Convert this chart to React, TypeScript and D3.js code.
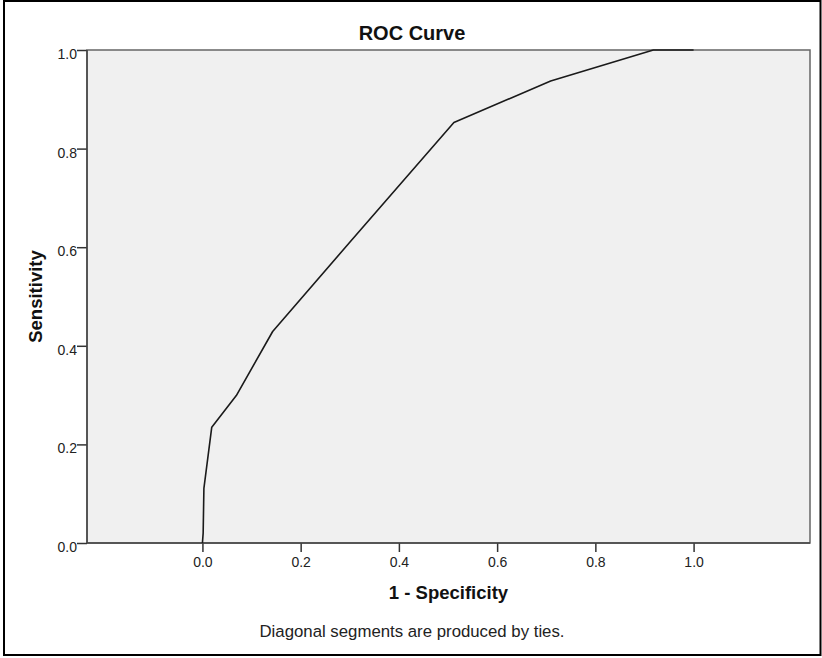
import { useEffect, useRef } from 'react';
import * as d3 from 'd3';

// ROC points (1 - specificity, sensitivity)
const fpr = [0, 0.0015, 0.003, 0.019, 0.069, 0.143, 0.30, 0.512, 0.709, 0.918, 1.0];
const tpr = [0, 0.02, 0.111, 0.235, 0.299, 0.429, 0.61, 0.853, 0.937, 1.0, 1.0];
const xTicks = [0, 0.2, 0.4, 0.6, 0.8, 1.0];
const yTicks = [0, 0.2, 0.4, 0.6, 0.8, 1.0];

const FONT = "'Liberation Sans', Arial, sans-serif";

export default function App() {
  const ref = useRef<SVGSVGElement | null>(null);

  useEffect(() => {
    const el = ref.current;
    if (!el) return;
    const svg = d3.select(el);
    svg.selectAll('*').remove();

    const w = 822;
    const h = 658;
    const m = { t: 50, r: 810, b: 543, l: 87 }; // plot box edges

    const x = d3.scaleLinear().domain([-0.235, 1.237]).range([m.l, m.r]);
    const y = d3.scaleLinear().domain([0, 1]).range([m.b, m.t]);

    // outer frame
    svg.append('rect')
      .attr('x', 4).attr('y', 1).attr('width', w - 5.5).attr('height', h - 4)
      .attr('fill', '#fff').attr('stroke', '#000').attr('stroke-width', 2);

    // plot background
    svg.append('rect')
      .attr('x', m.l).attr('y', m.t).attr('width', m.r - m.l).attr('height', m.b - m.t)
      .attr('fill', '#f0f0f0').attr('stroke', '#666').attr('stroke-width', 1.5);

    // axes
    const fmt = d3.format('.1f');
    const gx = svg.append('g')
      .attr('transform', `translate(0,${m.b})`)
      .call(d3.axisBottom(x).tickValues(xTicks).tickFormat(d => fmt(d as number)).tickSize(9).tickPadding(5));
    const gy = svg.append('g')
      .attr('transform', `translate(${m.l},0)`)
      .call(d3.axisLeft(y).tickValues(yTicks).tickFormat(d => fmt(d as number)).tickSize(10).tickPadding(0));

    [gx, gy].forEach(g => {
      g.select('.domain').remove();
      g.selectAll('line').attr('stroke', '#333').attr('stroke-width', 1.5);
      g.selectAll('text')
        .attr('fill', '#222')
        .attr('font-size', 14)
        .attr('font-family', FONT);
    });
    gy.selectAll('text').attr('dy', '0.6em');

    // left + bottom axis lines a bit darker
    svg.append('line').attr('x1', m.l).attr('x2', m.l).attr('y1', m.t).attr('y2', m.b)
      .attr('stroke', '#444').attr('stroke-width', 1.5);
    svg.append('line').attr('x1', m.l).attr('x2', m.r).attr('y1', m.b).attr('y2', m.b)
      .attr('stroke', '#444').attr('stroke-width', 1.5);

    // ROC curve
    const pts: [number, number][] = fpr.map((v, i) => [v, tpr[i]]);
    const line = d3.line<[number, number]>()
      .x(d => x(d[0]))
      .y(d => y(d[1]));
    svg.append('path')
      .datum(pts)
      .attr('d', line)
      .attr('fill', 'none')
      .attr('stroke', '#1a1a1a')
      .attr('stroke-width', 1.6)
      .attr('stroke-linejoin', 'round');

    // titles
    svg.append('text')
      .attr('x', 412).attr('y', 40)
      .attr('text-anchor', 'middle')
      .attr('font-family', FONT).attr('font-weight', 'bold').attr('font-size', 20)
      .attr('fill', '#111')
      .text('ROC Curve');

    svg.append('text')
      .attr('x', (m.l + m.r) / 2).attr('y', 599)
      .attr('text-anchor', 'middle')
      .attr('font-family', FONT).attr('font-weight', 'bold').attr('font-size', 18.5)
      .attr('fill', '#111')
      .text('1 - Specificity');

    svg.append('text')
      .attr('transform', `translate(42,${(m.t + m.b) / 2}) rotate(-90)`)
      .attr('text-anchor', 'middle')
      .attr('font-family', FONT).attr('font-weight', 'bold').attr('font-size', 18.5)
      .attr('fill', '#111')
      .text('Sensitivity');

    svg.append('text')
      .attr('x', 412).attr('y', 637)
      .attr('text-anchor', 'middle')
      .attr('font-family', FONT).attr('font-size', 16.8)
      .attr('fill', '#222')
      .text('Diagonal segments are produced by ties.');
  }, []);

  return (
    <svg
      ref={ref}
      width={822}
      height={658}
      style={{ position: 'absolute', left: 0, top: 0, background: '#fff' }}
    />
  );
}
